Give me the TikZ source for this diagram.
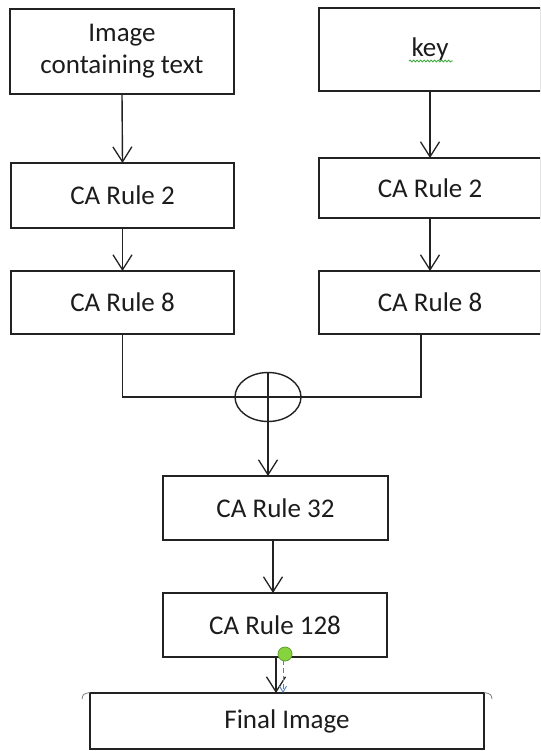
\documentclass[tikz,border=0pt]{standalone}
\usepackage{fontspec}
\setmainfont{Carlito}
\usetikzlibrary{arrows.meta,shapes.geometric,decorations.pathmorphing}
\definecolor{ink}{HTML}{222222}
\definecolor{txt}{HTML}{1C1C1C}
\definecolor{dotgreen}{HTML}{86D33E}
\definecolor{dotedge}{HTML}{5E9F2C}
\definecolor{dashblue}{HTML}{4F81BD}
\definecolor{spell}{HTML}{3DAA3D}
\begin{document}
\begin{tikzpicture}[x=1pt,y=-1pt,
  box/.style={draw=ink, line width=1.5pt, rectangle, inner sep=0pt, outer sep=0pt,
              align=center, text=txt, font=\fontsize{27}{32}\selectfont},
  flow/.style={draw=ink, line width=1.4pt,
               -{Straight Barb[length=15pt,width=19pt,line width=1.3pt]}},
  wire/.style={draw=ink, line width=1.4pt}]
\useasboundingbox (0,0) rectangle (540,751);
\clip (0,0) rectangle (540,751);

% left column
\node[box, minimum width=224pt, minimum height=85pt] (img) at (122,51.5) {Image\\containing text};
\node[box, minimum width=223pt, minimum height=65pt] (l2) at (122.5,195.5) {CA Rule 2};
\node[box, minimum width=223pt, minimum height=63pt] (l3) at (122.5,302.5) {CA Rule 8};

% right column
\node[box, minimum width=222pt, minimum height=83pt] (key) at (430,49.5) {key};
\node[box, minimum width=222pt, minimum height=60pt] (r2) at (430,188) {CA Rule 2};
\node[box, minimum width=222pt, minimum height=63pt] (r3) at (430,302.5) {CA Rule 8};

% spell-check underline under "key"
\draw[spell, line width=0.9pt, decorate,
      decoration={snake, segment length=3.5pt, amplitude=0.9pt}] (409,61) -- (453,61);

% combining operator
\node[draw=ink, line width=1.4pt, ellipse, minimum width=66pt, minimum height=49pt,
      inner sep=0pt, outer sep=0pt] (xor) at (268,397) {};
\coordinate (rdrop) at (421,334);

% lower column
\node[box, minimum width=225pt, minimum height=64pt] (c32) at (275.5,508) {CA Rule 32};
\node[box, minimum width=224pt, minimum height=64pt] (c128) at (275,625) {CA Rule 128};
\node[box, minimum width=394pt, minimum height=56pt] (fin) at (287,721) {Final Image};

% arrows
\draw[flow] (img.south) -- (l2.north);
\draw[flow] (l2.south) -- (l3.north);
\draw[flow] (key.south) -- (r2.north);
\draw[flow] (r2.south) -- (r3.north);

\draw[wire] (l3.south) |- (xor.west) -- (xor.east) -| (rdrop);
\draw[wire] (xor.north) -- (xor.south);
\draw[flow] (xor.south) -- (xor.south |- c32.north);
\coordinate (a32) at (273,540);
\draw[flow] (a32) -- (a32 |- c128.north);

% connection from the last rule to the output box
\coordinate (s1) at (276,657);
\coordinate (d1) at (283,660);
\draw[flow] (s1) -- (s1 |- fin.north);
\draw[dashblue, line width=1pt, dash pattern=on 5pt off 3pt,
      -{Straight Barb[length=6pt,width=7pt,line width=0.9pt]}] (d1) -- (d1 |- fin.north);
\node[circle, fill=dotgreen, draw=dotedge, line width=0.8pt, minimum size=14pt,
      inner sep=0pt] (dot) at (285,654) {};

% small handles at the top corners of the output box
\draw[gray, line width=0.8pt] (82,699) .. controls (83,694) .. (90,692.5);
\draw[gray, line width=0.8pt] (484,692.5) .. controls (491,694) .. (492,699);
\end{tikzpicture}
\end{document}
